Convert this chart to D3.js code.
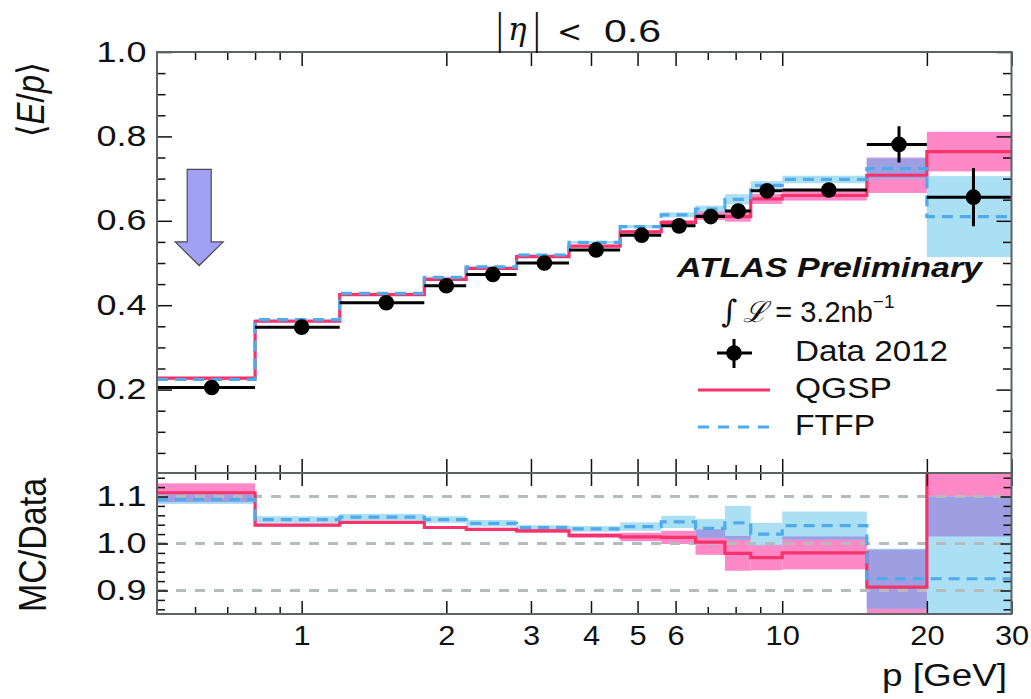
<!DOCTYPE html>
<html>
<head>
<meta charset="utf-8">
<script src="https://cdn.jsdelivr.net/npm/d3@7"></script>
<style>
  body { margin: 0; background: #fff; }
  svg { display: block; font-family: "Liberation Sans", Arial, sans-serif; }
</style>
</head>
<body>
<svg width="1031" height="699"></svg>
<script>
// bin edges in p [GeV]
const edges = [0.5, 0.8, 1.2, 1.8, 2.2, 2.8, 3.6, 4.6, 5.6, 6.6, 7.6, 8.6, 10, 15, 20, 30];

// <E/p> per bin
const dataMean = [0.205, 0.348, 0.406, 0.446, 0.473, 0.500, 0.531, 0.566, 0.588, 0.610, 0.623, 0.671, 0.673, 0.781, 0.656];
const dataErr  = [0.002, 0.002, 0.002, 0.002, 0.003, 0.003, 0.003, 0.004, 0.005, 0.006, 0.008, 0.009, 0.008, 0.043, 0.069];
const qgsp     = [0.227, 0.362, 0.425, 0.461, 0.487, 0.515, 0.540, 0.574, 0.596, 0.612, 0.610, 0.652, 0.660, 0.708, 0.764];
const qgspErr  = [0.002, 0.002, 0.002, 0.002, 0.002, 0.002, 0.003, 0.004, 0.006, 0.010, 0.012, 0.012, 0.012, 0.042, 0.047];
const ftfp     = [0.224, 0.366, 0.428, 0.466, 0.491, 0.519, 0.549, 0.586, 0.614, 0.628, 0.651, 0.684, 0.698, 0.724, 0.610];
const ftfpErr  = [0.002, 0.002, 0.002, 0.002, 0.002, 0.003, 0.003, 0.004, 0.006, 0.008, 0.012, 0.010, 0.009, 0.024, 0.096];

// MC/Data
const qgspRatio    = [1.108, 1.039, 1.045, 1.034, 1.030, 1.027, 1.017, 1.014, 1.013, 1.003, 0.979, 0.970, 0.980, 0.907, 1.165];
const qgspRatioErr = [0.020, 0.003, 0.003, 0.003, 0.003, 0.004, 0.005, 0.009, 0.014, 0.027, 0.037, 0.027, 0.035, 0.080, 0.150];
const ftfpRatio    = [1.094, 1.051, 1.056, 1.051, 1.043, 1.034, 1.031, 1.036, 1.046, 1.032, 1.044, 1.020, 1.038, 0.925, 0.925];
const ftfpRatioErr = [0.010, 0.007, 0.007, 0.007, 0.007, 0.005, 0.006, 0.009, 0.013, 0.020, 0.036, 0.024, 0.030, 0.064, 0.175];

const xMajor = [1, 2, 3, 4, 5, 6, 10, 20, 30];
const xMinor = [0.6, 0.7, 0.8, 0.9, 7, 8, 9];
const yTopMajor = [0.2, 0.4, 0.6, 0.8, 1.0];
const yTopMinor = [0.05, 0.1, 0.15, 0.25, 0.3, 0.35, 0.45, 0.5, 0.55, 0.65, 0.7, 0.75, 0.85, 0.9, 0.95];
const yRatMajor = [0.9, 1.0, 1.1];
const yRatMinor = [0.86, 0.88, 0.92, 0.94, 0.96, 0.98, 1.02, 1.04, 1.06, 1.08, 1.12, 1.14];
const refLines = [0.9, 1.0, 1.1];

const legendItems = ['Data 2012', 'QGSP', 'FTFP'];

const pink = '#f7336c', pinkBand = '#ff88c7';
const blue = '#4eaaea', blueBand = '#abdff4';
const overlap = '#9e9ee3';

const svg = d3.select('svg');
const L = 157, R = 1011.5, T = 52, M = 473, B = 614;

const x = d3.scaleLog().domain([0.5, 30]).range([L, R]);
const yTop = d3.scaleLinear().domain([0.0024, 1.0]).range([M, T]);
const yRat = d3.scaleLinear().domain([0.85, 1.15]).range([B, M]);

const defs = svg.append('defs');
defs.append('clipPath').attr('id', 'clipTop')
  .append('rect').attr('x', L).attr('y', T).attr('width', R - L).attr('height', M - T);
defs.append('clipPath').attr('id', 'clipRat')
  .append('rect').attr('x', L).attr('y', M).attr('width', R - L).attr('height', B - M);

const bins = dataMean.map((d, i) => ({ lo: edges[i], hi: edges[i + 1], i }));

function bands(g, ys, val, err, color) {
  g.append('g').selectAll('rect').data(bins).join('rect')
    .attr('x', d => x(d.lo))
    .attr('width', d => x(d.hi) - x(d.lo))
    .attr('y', d => ys(val[d.i] + err[d.i]))
    .attr('height', d => ys(val[d.i] - err[d.i]) - ys(val[d.i] + err[d.i]))
    .attr('fill', color);
}

function overlapBands(g, ys, v1, e1, v2, e2) {
  const ov = bins.map(d => {
    const lo = Math.max(v1[d.i] - e1[d.i], v2[d.i] - e2[d.i]);
    const hi = Math.min(v1[d.i] + e1[d.i], v2[d.i] + e2[d.i]);
    return { d, lo, hi };
  }).filter(o => o.hi > o.lo);
  g.append('g').selectAll('rect').data(ov).join('rect')
    .attr('x', o => x(o.d.lo))
    .attr('width', o => x(o.d.hi) - x(o.d.lo))
    .attr('y', o => ys(o.hi))
    .attr('height', o => ys(o.lo) - ys(o.hi))
    .attr('fill', overlap);
}

function stepLine(g, ys, val, color, dash) {
  const pts = edges.map((e, i) => [e, val[Math.min(i, val.length - 1)]]);
  const line = d3.line().curve(d3.curveStepAfter).x(d => x(d[0])).y(d => ys(d[1]));
  g.append('path').datum(pts)
    .attr('d', line)
    .attr('fill', 'none')
    .attr('stroke', color)
    .attr('stroke-width', 3.2)
    .attr('stroke-dasharray', dash || null);
}

// ---- top panel ----
const gTop = svg.append('g').attr('clip-path', 'url(#clipTop)');
bands(gTop, yTop, qgsp, qgspErr, pinkBand);
bands(gTop, yTop, ftfp, ftfpErr, blueBand);
overlapBands(gTop, yTop, qgsp, qgspErr, ftfp, ftfpErr);
stepLine(gTop, yTop, qgsp, pink);
stepLine(gTop, yTop, ftfp, blue, '11,7');

const gData = gTop.append('g');
gData.selectAll('.xerr').data(bins).join('line')
  .attr('x1', d => x(d.lo)).attr('x2', d => x(d.hi))
  .attr('y1', d => yTop(dataMean[d.i])).attr('y2', d => yTop(dataMean[d.i]))
  .attr('stroke', '#000').attr('stroke-width', 3);
gData.selectAll('.yerr').data(bins).join('line')
  .attr('x1', d => x((d.lo + d.hi) / 2)).attr('x2', d => x((d.lo + d.hi) / 2))
  .attr('y1', d => yTop(dataMean[d.i] - dataErr[d.i])).attr('y2', d => yTop(dataMean[d.i] + dataErr[d.i]))
  .attr('stroke', '#000').attr('stroke-width', 3);
gData.selectAll('circle').data(bins).join('circle')
  .attr('cx', d => x((d.lo + d.hi) / 2))
  .attr('cy', d => yTop(dataMean[d.i]))
  .attr('r', 7.8).attr('fill', '#000');

// arrow annotation
const ax = x(0.612), aTop = yTop(0.722), aNeck = yTop(0.55), aTip = yTop(0.494);
svg.append('path')
  .attr('d', `M${ax - 12},${aTop} L${ax + 12},${aTop} L${ax + 12},${aNeck} L${ax + 24},${aNeck} L${ax},${aTip} L${ax - 24},${aNeck} L${ax - 12},${aNeck} Z`)
  .attr('fill', '#a0a0f4').attr('stroke', '#4a4a55').attr('stroke-width', 1.2);

// ---- ratio panel ----
const gRat = svg.append('g').attr('clip-path', 'url(#clipRat)');
bands(gRat, yRat, qgspRatio, qgspRatioErr, pinkBand);
bands(gRat, yRat, ftfpRatio, ftfpRatioErr, blueBand);
overlapBands(gRat, yRat, qgspRatio, qgspRatioErr, ftfpRatio, ftfpRatioErr);
gRat.selectAll('.ref').data(refLines).join('line')
  .attr('x1', L).attr('x2', R)
  .attr('y1', d => yRat(d)).attr('y2', d => yRat(d))
  .attr('stroke', '#b4bcbc').attr('stroke-width', 3).attr('stroke-dasharray', '10,9');
stepLine(gRat, yRat, qgspRatio, pink);
stepLine(gRat, yRat, ftfpRatio, blue, '11,7');

// ---- axes ----
function ticks(gen, scale, values, len, tx, ty) {
  return svg.append('g').attr('transform', `translate(${tx},${ty})`)
    .call(gen(scale).tickValues(values).tickSizeInner(-len).tickSizeOuter(0).tickFormat(''))
    .call(g => g.select('.domain').remove())
    .call(g => g.selectAll('line').attr('stroke', '#111').attr('stroke-width', 1.5));
}

[[d3.axisTop, T], [d3.axisBottom, M]].forEach(([gen, ty]) => {
  ticks(gen, x, xMajor, 14, 0, ty);
  ticks(gen, x, xMinor, 8, 0, ty);
});
[[d3.axisTop, M], [d3.axisBottom, B]].forEach(([gen, ty]) => {
  ticks(gen, x, xMajor, 13, 0, ty);
  ticks(gen, x, xMinor, 7, 0, ty);
});
[[d3.axisLeft, L], [d3.axisRight, R]].forEach(([gen, tx]) => {
  ticks(gen, yTop, yTopMajor, 15, tx, 0);
  ticks(gen, yTop, yTopMinor, 8.5, tx, 0);
  ticks(gen, yRat, yRatMajor, 11, tx, 0);
  ticks(gen, yRat, yRatMinor, 8, tx, 0);
});

// tick labels
function yLabels(scale, values) {
  svg.append('g').attr('transform', `translate(${L},0)`)
    .call(d3.axisLeft(scale).tickValues(values).tickSize(0).tickPadding(10.5).tickFormat(d3.format('.1f')))
    .attr('font-size', null).attr('font-family', null)
    .call(g => g.select('.domain').remove())
    .selectAll('text')
      .attr('dy', null).attr('y', 9)
      .attr('font-size', 29)
      .attr('fill', '#111')
      .attr('textLength', 50).attr('lengthAdjust', 'spacingAndGlyphs');
}
yLabels(yTop, yTopMajor);
yLabels(yRat, yRatMajor);

svg.append('g').attr('transform', `translate(0,${B})`)
  .call(d3.axisBottom(x).tickValues(xMajor).tickSize(0).tickPadding(0).tickFormat(d3.format('d')))
  .attr('font-size', null).attr('font-family', null)
  .call(g => g.select('.domain').remove())
  .selectAll('text')
    .attr('dy', null).attr('y', 31)
    .attr('font-size', 28)
    .attr('fill', '#111')
    .attr('transform', 'scale(1.1,1)');

// frames
svg.append('rect').attr('x', L).attr('y', T).attr('width', R - L).attr('height', M - T)
  .attr('fill', 'none').attr('stroke', '#5d6363').attr('stroke-width', 2);
svg.append('rect').attr('x', L).attr('y', M).attr('width', R - L).attr('height', B - M)
  .attr('fill', 'none').attr('stroke', '#5d6363').attr('stroke-width', 2);

// ---- axis titles ----
const yt = svg.append('text')
  .attr('transform', 'translate(44,62) scale(1.15,1) rotate(-90)')
  .attr('text-anchor', 'end').attr('font-size', 33).attr('fill', '#111');
yt.append('tspan').attr('font-family', 'DejaVu Sans').text('\u27E8');
yt.append('tspan').attr('font-style', 'italic').text('E');
yt.append('tspan').text('/');
yt.append('tspan').attr('font-style', 'italic').text('p');
yt.append('tspan').attr('font-family', 'DejaVu Sans').text('\u27E9');

svg.append('text')
  .attr('transform', 'translate(46,545) scale(1.15,1) rotate(-90)')
  .attr('text-anchor', 'middle').attr('font-size', 34).attr('fill', '#111')
  .text('MC/Data');

svg.append('text')
  .attr('x', 1007).attr('y', 686)
  .attr('text-anchor', 'end').attr('font-size', 31).attr('fill', '#111')
  .attr('textLength', 125).attr('lengthAdjust', 'spacingAndGlyphs')
  .text('p [GeV]');

// ---- title ----
svg.append('text').attr('x', 493).attr('y', 43)
  .attr('font-family', 'DejaVu Sans').attr('font-size', 40).attr('font-weight', 300).attr('fill', '#111')
  .text('|');
svg.append('text').attr('x', 508).attr('y', 40)
  .attr('font-family', 'DejaVu Serif').attr('font-style', 'italic').attr('font-size', 31).attr('fill', '#111')
  .text('\u03B7');
svg.append('text').attr('x', 530).attr('y', 43)
  .attr('font-family', 'DejaVu Sans').attr('font-size', 40).attr('font-weight', 300).attr('fill', '#111')
  .text('|');
svg.append('text').attr('x', 557).attr('y', 42)
  .attr('font-family', 'DejaVu Sans').attr('font-size', 30).attr('fill', '#111')
  .text('<');
svg.append('text').attr('x', 604).attr('y', 42)
  .attr('font-size', 31).attr('fill', '#111')
  .attr('textLength', 57).attr('lengthAdjust', 'spacingAndGlyphs')
  .text('0.6');

// ---- legend ----
svg.append('text')
  .attr('x', 677).attr('y', 277)
  .attr('font-size', 28).attr('font-weight', 'bold').attr('font-style', 'italic').attr('fill', '#111')
  .attr('textLength', 305).attr('lengthAdjust', 'spacingAndGlyphs')
  .text('ATLAS Preliminary');

const lumi = svg.append('text').attr('x', 721).attr('y', 322).attr('font-size', 29).attr('fill', '#111');
lumi.append('tspan').attr('font-family', 'DejaVu Serif').attr('font-size', 31).text('\u222B');
lumi.append('tspan').attr('dx', 6).attr('font-family', 'DejaVu Serif').attr('font-style', 'italic').text('\u2112');
lumi.append('tspan').text(' = 3.2nb');
lumi.append('tspan').attr('font-size', 19).attr('dy', -14).text('\u22121');

const legendY = [361, 398, 435];
const legendW = [153, 97, 80];
svg.append('g').selectAll('text').data(legendItems).join('text')
  .attr('x', 795).attr('y', (d, i) => legendY[i])
  .attr('font-size', 29).attr('fill', '#111')
  .attr('textLength', (d, i) => legendW[i]).attr('lengthAdjust', 'spacingAndGlyphs')
  .text(d => d);

const lg = svg.append('g');
lg.append('line').attr('x1', 717).attr('x2', 752).attr('y1', 353).attr('y2', 353).attr('stroke', '#000').attr('stroke-width', 3);
lg.append('line').attr('x1', 734).attr('x2', 734).attr('y1', 339).attr('y2', 368).attr('stroke', '#000').attr('stroke-width', 3);
lg.append('circle').attr('cx', 734).attr('cy', 353).attr('r', 7.8).attr('fill', '#000');
lg.append('line').attr('x1', 698).attr('x2', 770).attr('y1', 390).attr('y2', 390).attr('stroke', pink).attr('stroke-width', 3.2);
lg.append('line').attr('x1', 698).attr('x2', 770).attr('y1', 427).attr('y2', 427).attr('stroke', blue).attr('stroke-width', 3.2).attr('stroke-dasharray', '11,9');
</script>
</body>
</html>
